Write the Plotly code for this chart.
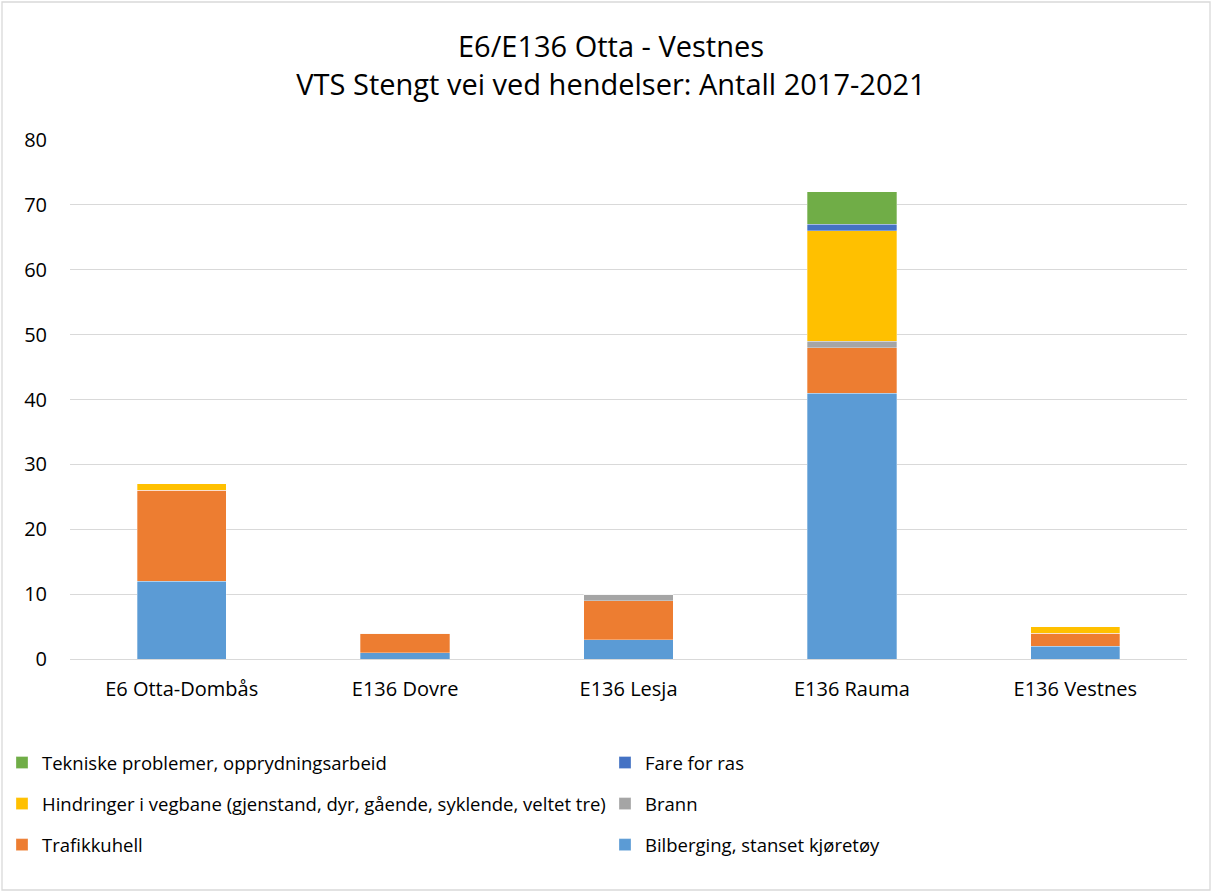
import plotly.graph_objects as go

# Road sections and closures per cause, 2017-2021
strekninger = ["E6 Otta-Dombås", "E136 Dovre", "E136 Lesja", "E136 Rauma", "E136 Vestnes"]

bilberging = [12, 1, 3, 41, 2]
trafikkuhell = [14, 3, 6, 7, 2]
brann = [0, 0, 1, 1, 0]
hindringer = [1, 0, 0, 17, 1]
fare_for_ras = [0, 0, 0, 1, 0]
tekniske = [0, 0, 0, 5, 0]

y_ticks = [0, 10, 20, 30, 40, 50, 60, 70, 80]

# Stack order bottom -> top, with legend column and row for each cause
serier = [
    ("Bilberging, stanset kjøretøy", bilberging, "#5B9BD5", "legend2", 3),
    ("Trafikkuhell", trafikkuhell, "#ED7D31", "legend", 3),
    ("Brann", brann, "#A5A5A5", "legend2", 2),
    ("Hindringer i vegbane (gjenstand, dyr, gående, syklende, veltet tre)", hindringer, "#FFC000", "legend", 2),
    ("Fare for ras", fare_for_ras, "#4472C4", "legend2", 1),
    ("Tekniske problemer, opprydningsarbeid", tekniske, "#70AD47", "legend", 1),
]

fig = go.Figure()
for i, (navn, verdier, farge, leg, rank) in enumerate(serier):
    fig.add_trace(go.Bar(
        x=strekninger,
        y=verdier,
        name=navn,
        legend=leg,
        legendgroup=f"g{i}",
        legendrank=rank,
        marker=dict(color=farge, line=dict(color="rgba(255,255,255,0.5)", width=0.6)),
    ))

W, H = 1212, 892
ml, mr, mt, mb = 70, 25, 140, 233
ph = H - mt - mb
pw = W - ml - mr


def px_x(p):
    return (p - ml) / pw


def px_y(p):
    return (H - mb - p) / ph


legend_style = dict(
    orientation="v",
    traceorder="grouped",
    tracegroupgap=14,
    xanchor="left",
    yanchor="top",
    y=px_y(744),
    font=dict(size=18.5),
    bgcolor="rgba(0,0,0,0)",
    itemclick=False,
)

fig.update_layout(
    width=W,
    height=H,
    barmode="stack",
    bargap=0.6,
    paper_bgcolor="white",
    plot_bgcolor="white",
    margin=dict(l=ml, r=mr, t=mt, b=mb, autoexpand=False),
    font=dict(family="Open Sans, Noto Sans, sans-serif", color="#000000", size=20),
    title=dict(
        text="E6/E136 Otta - Vestnes<br>VTS Stengt vei ved hendelser: Antall 2017-2021",
        x=611 / W,
        xanchor="center",
        xref="container",
        y=1 - 57 / H,
        yanchor="top",
        font=dict(size=29, color="#000000"),
    ),
    xaxis=dict(
        showgrid=False,
        showline=False,
        ticks="",
        ticklabelstandoff=16,
        tickfont=dict(size=20),
    ),
    yaxis=dict(
        range=[0, 80],
        tickvals=y_ticks,
        showgrid=True,
        gridcolor="#d9d9d9",
        gridwidth=1.3,
        zeroline=True,
        zerolinecolor="#d9d9d9",
        zerolinewidth=1.3,
        ticks="",
        ticklabelstandoff=22,
        tickfont=dict(size=20),
    ),
    legend=dict(legend_style, x=px_x(2)),
    legend2=dict(legend_style, x=px_x(605)),
    shapes=[
        dict(
            type="rect",
            xref="paper",
            yref="paper",
            x0=px_x(2),
            x1=px_x(W - 2),
            y0=px_y(H - 2),
            y1=px_y(2),
            line=dict(color="#d9d9d9", width=1.3),
            layer="below",
        )
    ],
)

fig.write_html("out.html")
